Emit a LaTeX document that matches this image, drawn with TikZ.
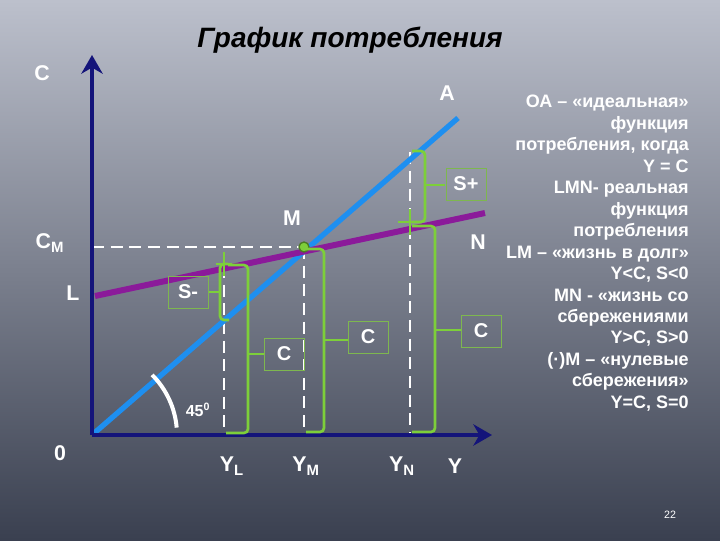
\documentclass[tikz,border=0pt]{standalone}
\usepackage{fontspec}
\setmainfont{Liberation Sans}
\usetikzlibrary{arrows.meta}
\definecolor{navy}{HTML}{14147A}
\definecolor{bl}{HTML}{1E8FF0}
\definecolor{pu}{HTML}{8B1A9A}
\definecolor{gr}{HTML}{7DCF3A}
\definecolor{bgt}{HTML}{BCC0CC}
\definecolor{bgb}{HTML}{3A4050}
\begin{document}
\begin{tikzpicture}[x=0.75pt,y=-0.75pt,
  lab/.style={text=white,font=\fontsize{16}{18}\selectfont\bfseries,inner sep=0},
  box/.style={draw=gr!70!gray,line width=0.6pt,minimum width=40*0.75pt,minimum height=32*0.75pt,text=white,font=\fontsize{15}{17}\selectfont\bfseries},
  brc/.style={draw=gr,line width=2pt,rounded corners=3pt},
  dsh/.style={white,line width=1.8pt,dash pattern=on 9pt off 5pt},
  ax/.style={navy,line width=3.5pt,-{Stealth[length=14pt,width=16pt]}}]
\shade[top color=bgt,bottom color=bgb] (0,0) rectangle (720,540);
\useasboundingbox (0,0) rectangle (720,540);
\node[font=\fontsize{21}{24}\selectfont\bfseries\itshape] (title) at (350,40) {График потребления};
% points
\coordinate (O) at (92,435);
\coordinate (A) at (458,118);
\coordinate (L0) at (95,296);
\coordinate (N0) at (485,213);
\coordinate (M) at (304,247);
% dashed
\draw[dsh] (92,247) -- (M);
\draw[dsh] (224,266) -- (224,435);
\draw[dsh] (M) -- (304,435);
\draw[dsh] (410,152) -- (410,435);
% lines
\draw[bl,line width=4pt] (O) -- (A);
\draw[pu,line width=4.5pt] (L0) -- (N0);
\draw[ax] (O) -- (92,55);
\draw[ax] (O) -- (492,435);
\draw[white,line width=3pt] (92,435) ++(-45:85) arc[start angle=-45,end angle=-5,radius=85];
\fill[gr] (M) circle (5);
\draw[gr!60!black,line width=1pt] (M) circle (5);
% crosses
\draw[gr,line width=2pt] (224,252)--(224,276) (216,264)--(232,264);
\draw[gr,line width=2pt] (410,209)--(410,235) (398,222)--(422,222);
% brackets
\draw[brc] (228,264) -- (220,264) -- (220,320) -- (229,320);
\draw[gr,line width=2pt] (220,292) -- (208,292);
\draw[brc] (228,265) -- (248,265) -- (248,433) -- (226,433);
\draw[gr,line width=2pt] (248,354) -- (264,354);
\draw[brc] (306,249) -- (324,249) -- (324,432) -- (306,432);
\draw[gr,line width=2pt] (324,340) -- (348,340);
\draw[brc] (412,151) -- (425,151) -- (425,222) -- (412,222);
\draw[gr,line width=2pt] (425,185) -- (445,185);
\draw[brc] (412,226) -- (435,226) -- (435,432) -- (412,432);
\draw[gr,line width=2pt] (435,330) -- (461,330);
% boxes
\node[box] (sm) at (188,292) {S-};
\node[box] (c1) at (284,354) {C};
\node[box] (c2) at (368,337) {C};
\node[box] (sp) at (466,184) {S+};
\node[box] (c3) at (481,331) {C};
% labels
\node[lab] (lc) at (42,73) {C};
\node[lab] (la) at (447,93) {A};
\node[lab] (lm) at (292,218) {M};
\node[lab] (ln) at (478,242) {N};
\node[lab] (lcm) at (50,243) {C\textsubscript{M}};
\node[lab] (ll) at (73,293) {L};
\node[lab] (l0) at (60,453) {0};
\node[lab] (lyl) at (232,466) {Y\textsubscript{L}};
\node[lab] (lym) at (306,466) {Y\textsubscript{M}};
\node[lab] (lyn) at (402,466) {Y\textsubscript{N}};
\node[lab] (ly) at (455,466) {Y};
\node[text=white,font=\fontsize{12}{14}\selectfont\bfseries,inner sep=0] (l45) at (198,410) {45\textsuperscript{0}};
% right text
\node[text=white,font=\fontsize{13.5}{16.1}\selectfont\bfseries,inner sep=0,align=right,anchor=north east] (txt) at (689,95)
{ОА – «идеальная»\\функция\\потребления, когда\\Y = C\\LMN- реальная\\функция\\потребления\\LM – «жизнь в долг»\\Y<C, S<0\\MN - «жизнь со\\сбережениями\\Y>C, S>0\\(·)M – «нулевые\\сбережения»\\Y=C, S=0};
\node[text=white,font=\fontsize{8}{9}\selectfont,inner sep=0] (pg) at (670,515) {22};
\end{tikzpicture}
\end{document}
